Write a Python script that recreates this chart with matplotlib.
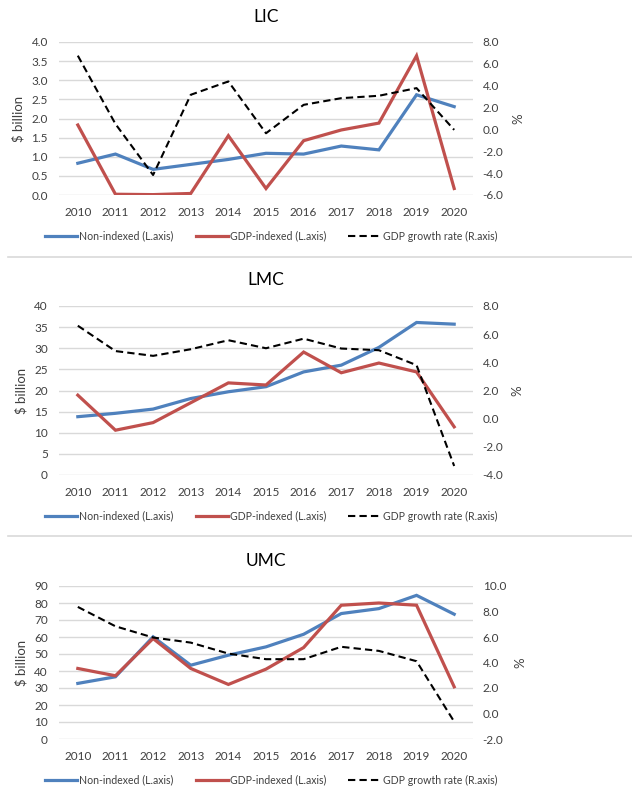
import matplotlib
matplotlib.use("Agg")
import matplotlib.pyplot as plt
from matplotlib.lines import Line2D
from matplotlib.ticker import FormatStrFormatter

plt.rcParams['font.family'] = ['Lato', 'DejaVu Sans']

years = list(range(2010, 2021))

# LIC
lic_non_indexed = [0.83, 1.07, 0.67, 0.80, 0.93, 1.09, 1.07, 1.28, 1.18, 2.62, 2.31]
lic_gdp_indexed = [1.83, 0.02, 0.01, 0.04, 1.55, 0.17, 1.42, 1.70, 1.88, 3.64, 0.17]
lic_growth = [6.75, 0.5, -4.17, 3.17, 4.39, -0.35, 2.25, 2.86, 3.08, 3.78, -0.04]

# LMC
lmc_non_indexed = [13.8, 14.6, 15.6, 18.1, 19.7, 20.9, 24.4, 26.0, 30.2, 36.1, 35.7]
lmc_gdp_indexed = [18.9, 10.6, 12.4, 17.1, 21.8, 21.3, 29.1, 24.2, 26.5, 24.4, 11.4]
lmc_growth = [6.6, 4.8, 4.46, 4.93, 5.57, 5.0, 5.68, 4.98, 4.86, 3.8, -3.36]

# UMC
umc_non_indexed = [32.7, 36.6, 60.1, 43.4, 49.3, 54.2, 61.6, 73.8, 76.7, 84.5, 73.4]
umc_gdp_indexed = [41.5, 37.2, 59.1, 41.5, 32.1, 41.1, 53.8, 78.7, 80.0, 78.7, 30.7]
umc_growth = [8.36, 6.84, 5.96, 5.56, 4.70, 4.26, 4.26, 5.23, 4.91, 4.10, -0.64]

series_labels = ['Non-indexed (L.axis)', 'GDP-indexed (L.axis)', 'GDP growth rate (R.axis)']

BLUE = '#4F81BD'
RED = '#C0504D'
GRID = '#d9d9d9'
TXT = '#404040'
FS = 8.5

W, H = 632, 792
fig = plt.figure(figsize=(W / 100, H / 100), dpi=100)


def px_axes(left, top, right, bottom):
    return fig.add_axes([left / W, 1 - bottom / H, (right - left) / W, (bottom - top) / H])


panels = [
    dict(title='LIC', top=42, bottom=195, non=lic_non_indexed, gdp=lic_gdp_indexed, growth=lic_growth,
         ylim=(0, 4), ystep=0.5, yfmt='%.1f', rlim=(-6, 8), rstep=2, legend_y=236, title_y=17),
    dict(title='LMC', top=306, bottom=475, non=lmc_non_indexed, gdp=lmc_gdp_indexed, growth=lmc_growth,
         ylim=(0, 40), ystep=5, yfmt='%d', rlim=(-4, 8), rstep=2, legend_y=516, title_y=280),
    dict(title='UMC', top=586, bottom=739, non=umc_non_indexed, gdp=umc_gdp_indexed, growth=umc_growth,
         ylim=(0, 90), ystep=10, yfmt='%d', rlim=(-2, 10), rstep=2, legend_y=780, title_y=561),
]

for p in panels:
    ax = px_axes(59, p['top'], 473, p['bottom'])
    ax2 = ax.twinx()

    lo, hi = p['ylim']
    n = int(round((hi - lo) / p['ystep']))
    ax.set_ylim(lo, hi)
    ax.set_yticks([lo + i * p['ystep'] for i in range(n + 1)])
    ax.yaxis.set_major_formatter(FormatStrFormatter(p['yfmt']))
    ax.grid(axis='y', color=GRID, linewidth=1)
    ax.set_axisbelow(True)

    rlo, rhi = p['rlim']
    ax2.set_ylim(rlo, rhi)
    ax2.set_yticks(list(range(rlo, rhi + 1, p['rstep'])))
    ax2.yaxis.set_major_formatter(FormatStrFormatter('%.1f'))

    ax.plot(years, p['non'], color=BLUE, linewidth=2.3, solid_joinstyle='miter', zorder=3)
    ax.plot(years, p['gdp'], color=RED, linewidth=2.3, solid_joinstyle='miter', zorder=3)
    ax2.plot(years, p['growth'], color='black', linewidth=1.5, linestyle=(0, (3.5, 2)), zorder=3)

    ax.set_xlim(2009.5, 2020.5)
    ax.set_xticks(years)
    for a in (ax, ax2):
        for s in a.spines.values():
            s.set_visible(False)
        a.tick_params(length=0, labelsize=FS, colors=TXT)
    ax.tick_params(axis='y', pad=8)
    ax2.tick_params(axis='y', pad=7)
    ax.tick_params(axis='x', pad=9)
    ax.set_ylabel('$ billion', fontsize=9.5, color=TXT, labelpad=5)
    ax2.set_ylabel('%', fontsize=9.5, color=TXT, rotation=90, labelpad=6)

    fig.text(266 / W, 1 - p['title_y'] / H, p['title'], ha='center', va='center', fontsize=12.5, color='black')

    handles = [Line2D([], [], color=BLUE, linewidth=2.3),
               Line2D([], [], color=RED, linewidth=2.3),
               Line2D([], [], color='black', linewidth=1.5, linestyle=(0, (3.5, 2)))]
    fig.legend(handles, series_labels, loc='center', ncol=3, frameon=False,
               bbox_to_anchor=(271 / W, 1 - p['legend_y'] / H), fontsize=7.6,
               handlelength=3.1, handletextpad=0.15, columnspacing=2.1,
               labelcolor=TXT)

# thin separators between panels
for y in (257, 536):
    fig.add_artist(Line2D([8 / W, 1], [1 - y / H, 1 - y / H], color='#d9d9d9', linewidth=1.2))

fig.savefig('out.png', dpi=100, facecolor='white')
